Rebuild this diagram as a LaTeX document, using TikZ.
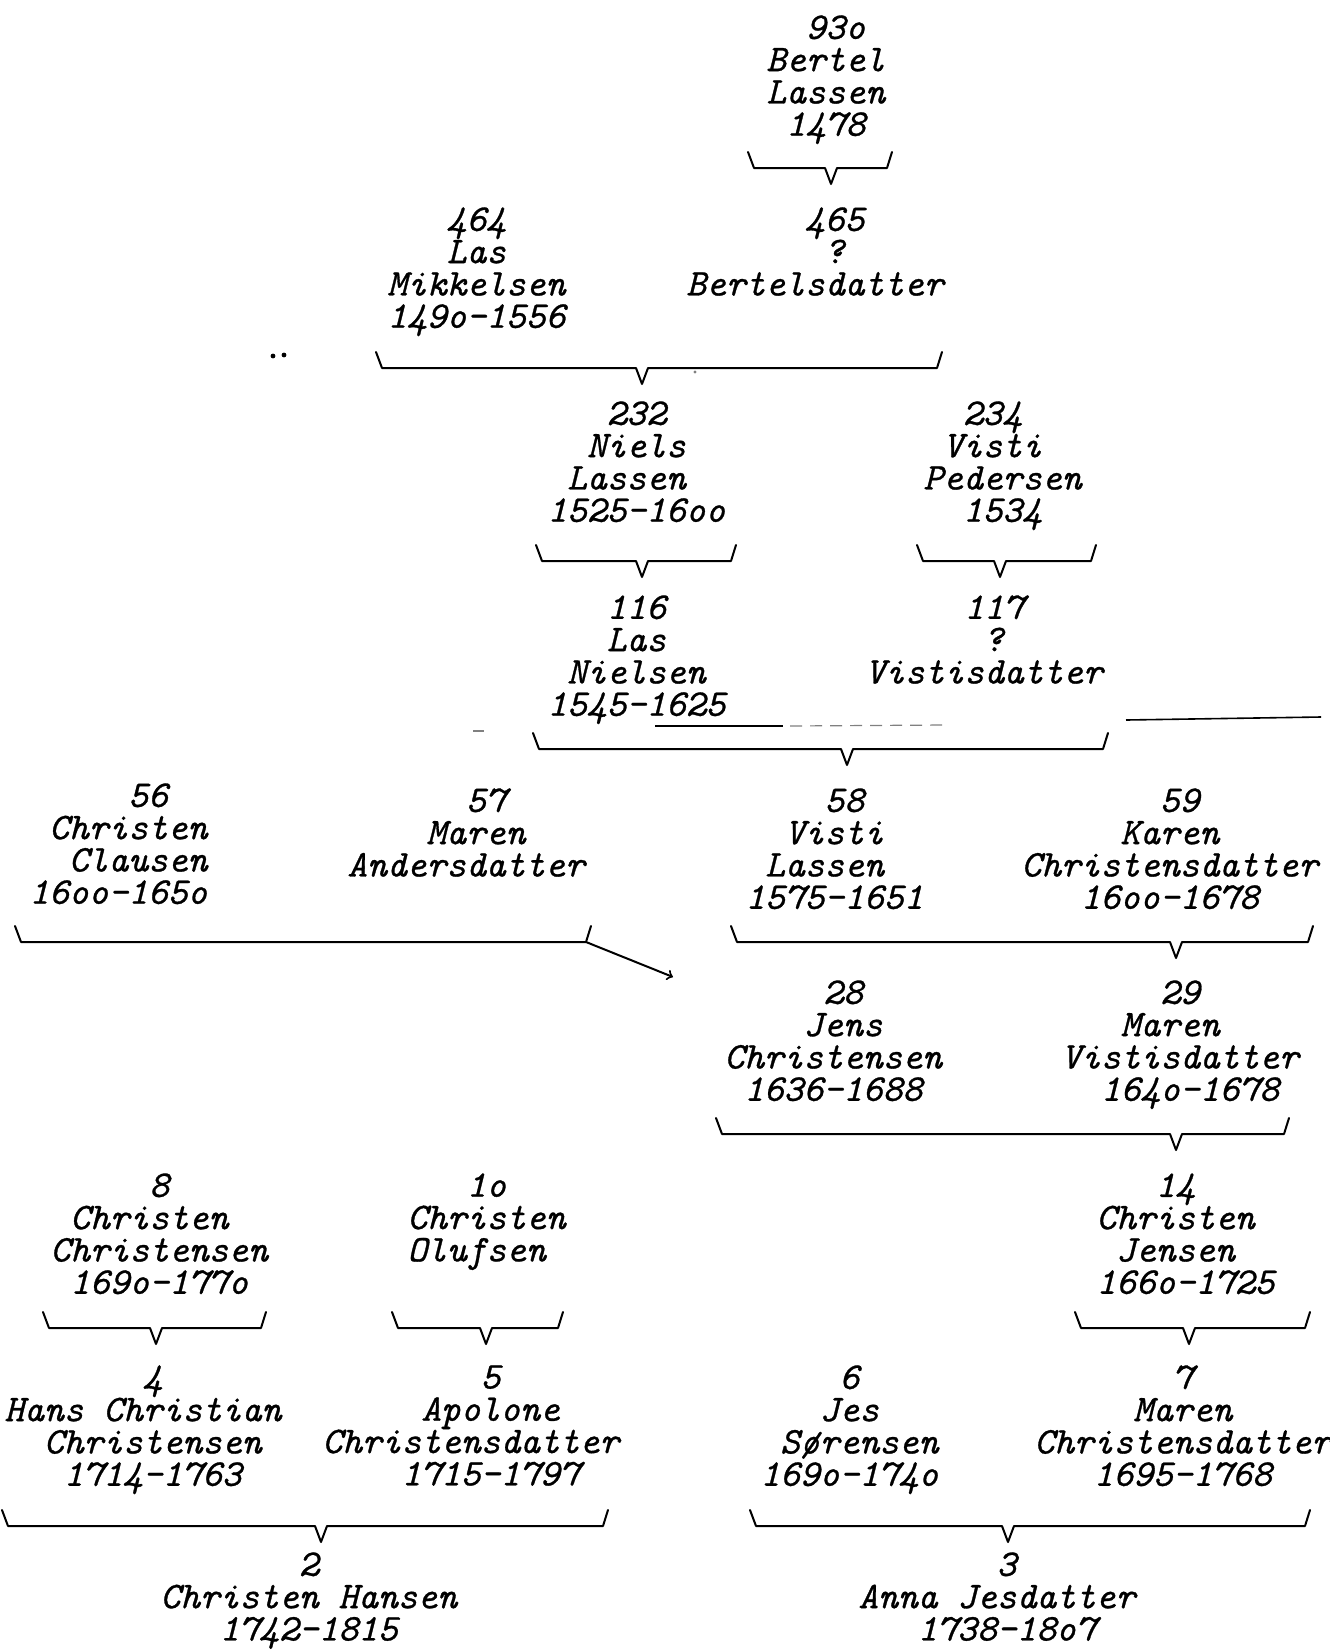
\documentclass[tikz,border=0pt]{standalone}
\usepackage{fontspec}
\usepackage{tikz}
\usetikzlibrary{calc}

\newfontfamily\typefont{lmmono10-italic.otf}[FakeBold=0.8]

% one typewriter column
\newlength{\typecol}
\setlength{\typecol}{9.891pt}
\newcommand{\skipcol}[1]{\hspace*{#1\typecol}}

% family bracket: name, left, right, v, y
\newcommand{\famline}[5]{%
  \coordinate (#1l) at (#2,#5);
  \coordinate (#1r) at (#3,#5);
  \coordinate (#1v) at (#4,#5);
  \draw[famline] ($(#1l)+(-6,-16)$) -- (#1l) -- ($(#1v)+(-6,0)$) -- ($(#1v)+(0,16)$)
    -- ($(#1v)+(6,0)$) -- (#1r) -- ($(#1r)+(5,-16)$);
}

\tikzset{
  person/.style={anchor=north west, inner sep=0pt, align=left,
    font=\typefont\fontsize{18.84}{16.15}\selectfont},
  famline/.style={line width=1pt, line cap=round, line join=round},
}

\begin{document}
\lineskiplimit=-20pt
\begin{tikzpicture}[x=0.5pt,y=-0.5pt]
        \useasboundingbox (0,0) rectangle (1329,1650);
        \fill[white] (0,0) rectangle (1329,1650);

        % Generation 930
        \node[person] (p930) at (766,15) {\skipcol{2}93o\\Bertel\\Lassen\\\skipcol{1}1478};
        \famline{f930}{754}{887}{831}{168}

        % Generation 464
        \node[person] (p464) at (387,207) {\skipcol{3}464\\\skipcol{3}Las\\Mikkelsen\\149o-1556};
        \node[person] (p465) at (686,207) {\skipcol{6}465\\\skipcol{7}?\\Bertelsdatter};
        \famline{f464}{382}{937}{642}{368}

        % Generation 232
        \node[person] (p232) at (547,401) {\skipcol{3}232\\\skipcol{2}Niels\\\skipcol{1}Lassen\\1525-16oo};
        \node[person] (p234) at (923,401) {\skipcol{2}234\\\skipcol{1}Visti\\Pedersen\\\skipcol{2}1534};
        \famline{f232}{542}{731}{642}{561}
        \famline{f234}{923}{1091}{1000}{561}

        % Generation 116
        \node[person] (p116) at (547,595) {\skipcol{3}116\\\skipcol{3}Las\\\skipcol{1}Nielsen\\1545-1625};
        \node[person] (p117) at (865,595) {\skipcol{5}117\\\skipcol{6}?\\Vistisdatter};
        \famline{f116}{539}{1103}{847}{749}

        % Stray marks
        \draw[line width=0.8pt] (1126,720) -- (1321,717);
        \draw[line width=0.8pt] (655,726) -- (783,726);
        \draw[line width=0.6pt, gray, dash pattern=on 6pt off 4pt] (790,726) -- (945,725);
        \draw[line width=0.6pt, gray] (473,731) -- (484,731);
        \fill (273,356) circle[radius=1.2pt];
        \fill (284,355) circle[radius=1.2pt];
        \fill[gray] (695,372) circle[radius=0.8pt];

        % Generation 56
        \node[person] (p56) at (29,783) {\skipcol{5}56\\\skipcol{1}Christen\\\skipcol{2}Clausen\\16oo-165o};
        \node[person] (p57) at (347,788) {\skipcol{6}57\\\skipcol{4}Maren\\Andersdatter};
        \node[person] (p58) at (745,788) {\skipcol{4}58\\\skipcol{2}Visti\\\skipcol{1}Lassen\\1575-1651};
        \node[person] (p59) at (1021,788) {\skipcol{7}59\\\skipcol{5}Karen\\Christensdatter\\\skipcol{3}16oo-1678};
        \coordinate (f56l) at (21,942);
        \coordinate (f56r) at (586,942);
        \coordinate (arrtip) at (673,977);
        \draw[famline] ($(f56l)+(-6,-16)$) -- (f56l) -- (f56r) -- ($(f56r)+(5,-16)$);
        \draw[famline,->] (f56r) -- (arrtip);
        \famline{f58}{737}{1308}{1176}{942}

        % Generation 28
        \node[person] (p28) at (724,980) {\skipcol{5}28\\\skipcol{4}Jens\\Christensen\\\skipcol{1}1636-1688};
        \node[person] (p29) at (1061,980) {\skipcol{5}29\\\skipcol{3}Maren\\Vistisdatter\\\skipcol{2}164o-1678};
        \famline{f28}{722}{1284}{1176}{1134}

        % Generation 8
        \node[person] (p8) at (50,1173) {\skipcol{5}8\\\skipcol{1}Christen\\Christensen\\\skipcol{1}169o-177o};
        \node[person] (p10) at (407,1173) {\skipcol{3}1o\\Christen\\Olufsen};
        \node[person] (p14) at (1096,1173) {\skipcol{3}14\\Christen\\\skipcol{1}Jensen\\166o-1725};
        \famline{f8}{49}{261}{156}{1328}
        \famline{f10}{398}{558}{486}{1328}
        \famline{f14}{1081}{1305}{1189}{1328}

        % Generation 4
        \node[person] (p4) at (4,1365) {\skipcol{7}4\\Hans Christian\\\skipcol{2}Christensen\\\skipcol{3}1714-1763};
        \node[person] (p5) at (322,1365) {\skipcol{8}5\\\skipcol{5}Apolone\\Christensdatter\\\skipcol{4}1715-1797};
        \node[person] (p6) at (760,1365) {\skipcol{4}6\\\skipcol{3}Jes\\\skipcol{1}Sørensen\\169o-174o};
        \node[person] (p7) at (1034,1365) {\skipcol{7}7\\\skipcol{5}Maren\\Christensdatter\\\skipcol{3}1695-1768};
        \famline{f4}{8}{603}{321}{1526}
        \famline{f6}{756}{1305}{1008}{1526}

        % Generation 2
        \node[person] (p2) at (160,1552) {\skipcol{7}2\\Christen Hansen\\\skipcol{3}1742-1815};
        \node[person] (p3) at (858,1552) {\skipcol{7}3\\Anna Jesdatter\\\skipcol{3}1738-18o7};
    \end{tikzpicture}
\end{document}
